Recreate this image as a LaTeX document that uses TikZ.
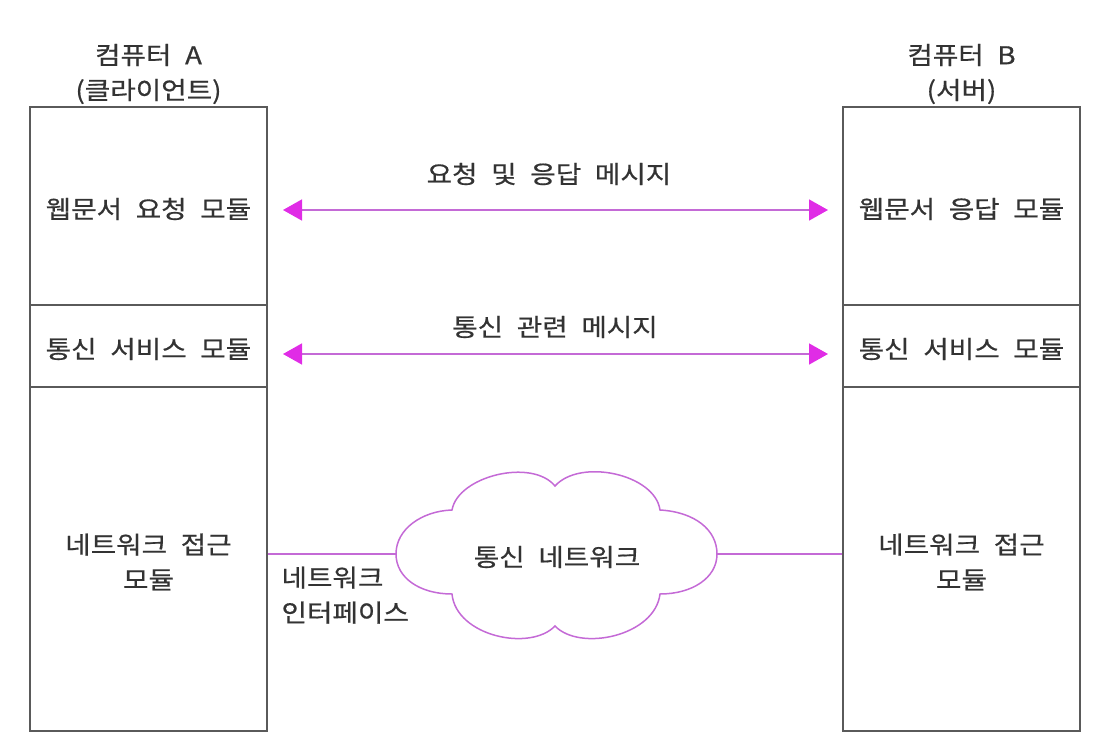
\documentclass[tikz,border=0pt]{standalone}
\usepackage{fontspec}
\setmainfont{Noto Sans CJK KR}[WordSpace=2.2, FakeBold=0.6, FakeStretch=1.13]
\usetikzlibrary{arrows.meta}
\definecolor{boxline}{HTML}{5A5A5A}
\definecolor{txt}{HTML}{333333}
\definecolor{vline}{HTML}{C46AD6}
\definecolor{vtip}{HTML}{E02CE6}
\begin{document}
\begin{tikzpicture}[x=1pt,y=-1pt,
  every node/.style={font=\fontsize{24.5}{35}\selectfont, text=txt},
  part/.style={draw=boxline, line width=1.6pt, minimum width=237pt, inner sep=0pt},
  lbl/.style={align=center},
  msg/.style={draw=vline, line width=1.6pt,
    {Triangle[length=19pt,width=21pt,color=vtip]}-{Triangle[length=19pt,width=21pt,color=vtip]}},
  net/.style={draw=vline, line width=1.5pt}]
\useasboundingbox (0,0) rectangle (1106,752);
% left computer
\node[part, minimum height=198pt] (a1) at (148.5,206) {};
\node (a1t) at (148.5,209) {웹문서 요청 모듈};
\node[part, minimum height=82pt] (a2) at (148.5,346) {};
\node (a2t) at (148.5,349) {통신 서비스 모듈};
\node[part, minimum height=344pt] (a3) at (148.5,559) {};
\node[lbl] (a3t) at (148.5,562) {네트워크 접근\\모듈};
\node[lbl] (at) at (148.5,74) {컴퓨터 A\\(클라이언트)};
% right computer
\node[part, minimum height=198pt] (b1) at (961.5,206) {};
\node (b1t) at (961.5,209) {웹문서 응답 모듈};
\node[part, minimum height=82pt] (b2) at (961.5,346) {};
\node (b2t) at (961.5,349) {통신 서비스 모듈};
\node[part, minimum height=344pt] (b3) at (961.5,559) {};
\node[lbl] (b3t) at (961.5,562) {네트워크 접근\\모듈};
\node[lbl] (bt) at (961.5,74) {컴퓨터 B\\(서버)};
% messages
\coordinate (m1a) at (283,210);
\coordinate (m1b) at (828,210);
\coordinate (m2a) at (283,354);
\coordinate (m2b) at (828,354);
\draw[msg] (m1a) -- (m1b);
\draw[msg] (m2a) -- (m2b);
\node (m1t) at (549,174) {요청 및 응답 메시지};
\node (m2t) at (555,327) {통신 관련 메시지};
% cloud
\coordinate (cl) at (396,554);
\coordinate (cr) at (717,554);
\draw[net] (cl) .. controls (396,529) and (422,511) .. (452,510)
  .. controls (458,476) and (532,458) .. (555,486)
  .. controls (580,458) and (655,474) .. (660,510)
  .. controls (695,512) and (717,530) .. (cr)
  .. controls (717,578) and (692,594) .. (660,594)
  .. controls (655,636) and (580,652) .. (555,626)
  .. controls (530,652) and (456,636) .. (452,594)
  .. controls (420,594) and (396,578) .. (cl);
\node (ct) at (557,557) {통신 네트워크};
\draw[net] (a3.east |- cl) -- (cl);
\draw[net] (cr) -- (b3.west |- cr);
\node[align=left, anchor=north west] (ni) at (278,563) {네트워크\\인터페이스};
\end{tikzpicture}
\end{document}
